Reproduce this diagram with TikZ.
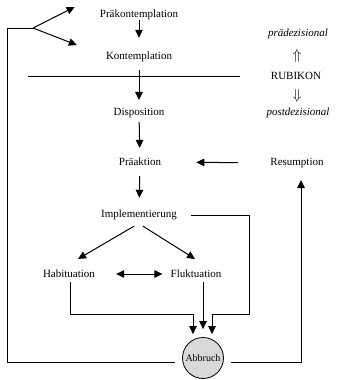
\documentclass[tikz,border=0pt]{standalone}
\usepackage{fontspec}
\setmainfont{Liberation Serif}
\usetikzlibrary{arrows.meta}
\tikzset{
	txt/.style={inner sep=0pt},
	arr/.style={line width=1pt, -{Triangle[length=8pt,width=7.5pt]}},
	dblarr/.style={line width=1pt, {Triangle[length=8pt,width=7.5pt]}-{Triangle[length=8pt,width=7.5pt]}},
	ln/.style={line width=0.7pt}
}

\begin{document}
\begin{tikzpicture}[x=1pt, y=-1pt, font=\fontsize{11}{13}\selectfont]
		%%%%% START %%%%%
		\useasboundingbox (0, 0) rectangle (337, 380);
		
		\node[txt] (praekont) at (139, 15) {Präkontemplation};
		\node[txt] (kont) at (139, 57) {Kontemplation};
		\node[txt] (disp) at (139, 113) {Disposition};
		\node[txt] (praeakt) at (140, 162) {Präaktion};
		\node[txt] (impl) at (139, 215) {Implementierung};
		\node[txt] (habit) at (69, 274) {Habituation};
		\node[txt] (flukt) at (196, 274) {Fluktuation};
		\node[circle, draw, line width=0.8pt, fill=black!15, minimum size=41pt, inner sep=0pt, font=\fontsize{10}{12}\selectfont] (abbr) at (203, 358) {Abbruch};
		\node[txt] (resum) at (297, 163) {Resumption};
		
		\node[txt, font=\fontsize{11}{13}\selectfont\itshape] (praedez) at (298, 34) {prädezisional};
		\node[txt, font=\fontsize{15}{17}\selectfont] (up) at (297, 56) {$\Uparrow$};
		\node[txt] (rubikon) at (296, 76) {RUBIKON};
		\node[txt, font=\fontsize{15}{17}\selectfont] (down) at (297, 96) {$\Downarrow$};
		\node[txt, font=\fontsize{11}{13}\selectfont\itshape] (postdez) at (298, 113) {postdezisional};
		
		\draw[ln] (28, 76) -- (240, 76);
		
		\draw[arr, shorten >=14pt] (praekont) -- (kont);
		\draw[arr, shorten <=8pt, shorten >=8pt] (kont) -- (disp);
		\draw[arr, shorten <=4pt, shorten >=10pt] (disp) -- (praeakt);
		\draw[arr, shorten <=10pt, shorten >=12pt] (praeakt) -- (impl);
		\draw[arr, shorten <=32pt, shorten >=35pt] (resum) -- (praeakt);
		
		\draw[arr] ([xshift=-5pt, yshift=-6pt]impl.south) -- ([xshift=9pt, yshift=11pt]habit.north);
		\draw[arr] ([xshift=4pt, yshift=-6pt]impl.south) -- ([xshift=-1pt, yshift=11pt]flukt.north);
		\draw[dblarr, shorten <=21pt, shorten >=8pt] (habit) -- (flukt);
		
		% paths into Abbruch
		\draw[arr] ([xshift=1pt, yshift=-4pt]habit.south) |- ([xshift=-10pt, yshift=23pt]abbr.north) -- ([xshift=-10pt, yshift=3pt]abbr.north);
		\draw[arr] ([xshift=7pt, yshift=-4pt]flukt.south) -- ([yshift=8pt]abbr.north);
		\draw[arr] ([xshift=14pt]impl.east) -- ++(58, 0) |- ([xshift=9pt, yshift=23pt]abbr.north) -- ([xshift=9pt, yshift=3pt]abbr.north);
		
		% paths out of Abbruch
		\coordinate (fork) at (33, 28);
		\coordinate (corner) at (7, 28);
		\draw[ln] ([xshift=-7pt, yshift=-4pt]abbr.west) -| (corner) -- (fork);
		\draw[arr] (fork) -- ([xshift=-25pt, yshift=8pt]praekont.west);
		\draw[arr] (fork) -- ([xshift=-29pt, yshift=12pt]kont.west);
		\draw[arr] ([xshift=7pt, yshift=-4pt]abbr.east) -| ([xshift=4pt, yshift=-12pt]resum.south);
		
		%%%%% END %%%%%
\end{tikzpicture}
\end{document}
